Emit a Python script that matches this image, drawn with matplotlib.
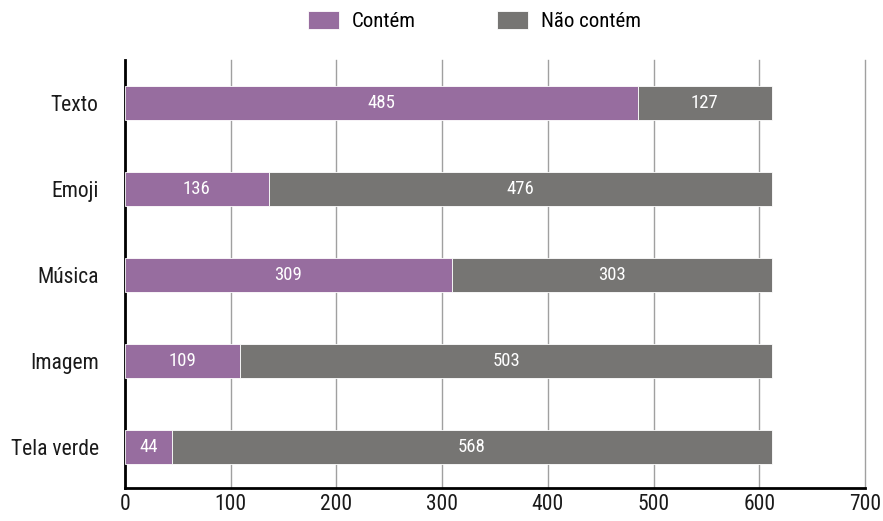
import matplotlib.pyplot as plt
from matplotlib import font_manager

categories = ["Texto", "Emoji", "Música", "Imagem", "Tela verde"]
contem = [485, 136, 309, 109, 44]
nao_contem = [127, 476, 303, 503, 568]
series_labels = ["Contém", "Não contém"]
x_ticks = [0, 100, 200, 300, 400, 500, 600, 700]

PURPLE = "#976d9f"
GRAY = "#767573"

names = {f.name for f in font_manager.fontManager.ttflist}
family = next((n for n in ["Roboto Condensed", "Open Sans Condensed", "Lato"] if n in names), "DejaVu Sans")
plt.rcParams["font.family"] = family

fig = plt.figure(figsize=(8.83, 5.21), dpi=100)
ax = fig.add_axes([0.1416, 0.0633, 0.838, 0.8217])

y = list(range(len(categories)))
ax.barh(y, contem, height=0.39, color=PURPLE, edgecolor="white", linewidth=0.6,
        label=series_labels[0], zorder=3)
ax.barh(y, nao_contem, left=contem, height=0.39, color=GRAY, edgecolor="white",
        linewidth=0.6, label=series_labels[1], zorder=3)

for yi, a, b in zip(y, contem, nao_contem):
    ax.text(a / 2, yi, str(a), ha="center", va="center", color="white", fontsize=13.5, zorder=4)
    ax.text(a + b / 2, yi, str(b), ha="center", va="center", color="white", fontsize=13.5, zorder=4)

ax.set_xlim(0, 700)
ax.set_ylim(4.48, -0.5)
ax.set_xticks(x_ticks)
ax.set_yticks(y)
ax.set_yticklabels(categories)
ax.tick_params(axis="both", length=0, labelsize=15.5, colors="#1a1a1a")
ax.tick_params(axis="y", pad=19)
ax.tick_params(axis="x", pad=4)
ax.xaxis.grid(True, color="#a0a0a0", linewidth=1.0, zorder=0)
ax.yaxis.grid(False)
# keep the 700 gridline fully visible at the right edge
for line in ax.get_xgridlines():
    line.set_clip_on(False)
for side in ("top", "right"):
    ax.spines[side].set_visible(False)
ax.spines["left"].set_linewidth(2)
ax.spines["bottom"].set_linewidth(2)

fig.legend(loc="center", bbox_to_anchor=(0.537, 0.959), ncol=2, frameon=False,
           fontsize=15, handlelength=1.5, handleheight=0.95, columnspacing=3.9,
           handletextpad=0.6)

fig.savefig("out.png", dpi=100)
